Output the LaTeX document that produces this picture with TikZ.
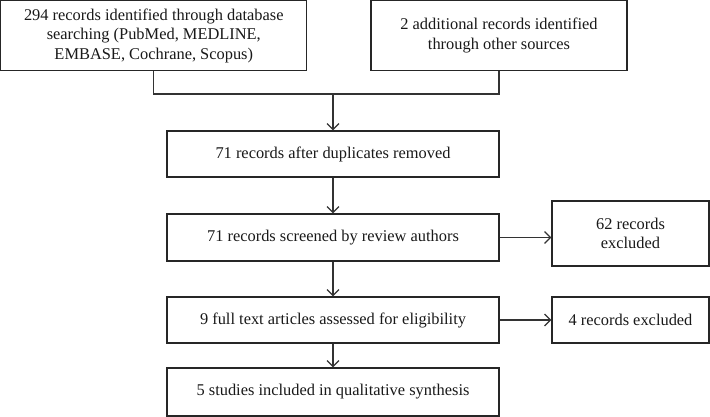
\documentclass[tikz,border=0pt]{standalone}
\usepackage{fontspec}
\setmainfont{Liberation Serif}
\usetikzlibrary{arrows.meta}
\begin{document}
\begin{tikzpicture}[x=1pt,y=-1pt,
  box/.style={draw=black!85, line width=1.2pt, fill=white, inner sep=0pt, align=center,
    font=\fontsize{16.4pt}{19.5pt}\selectfont, text=black!90},
  conn/.style={draw=black!80, line width=1.2pt},
  arr/.style={conn, -{Straight Barb[length=6pt,width=12pt,line width=1.2pt]}}]
\useasboundingbox (0,0) rectangle (710,417);
\node[box, minimum width=306pt, minimum height=70pt] (b1) at (153.8,35.6)
  {294 records identified through database\\searching (PubMed, MEDLINE,\\EMBASE, Cochrane, Scopus)};
\node[box, minimum width=256pt, minimum height=70pt] (b2) at (499,35.6)
  {2 additional records identified\\through other sources};
\node[box, minimum width=332pt, minimum height=46pt] (b3) at (333,154)
  {71 records after duplicates removed};
\node[box, minimum width=332pt, minimum height=47pt] (b4) at (333,237.5)
  {71 records screened by review authors};
\node[box, minimum width=157pt, minimum height=65pt] (e1) at (630.5,233.5)
  {62 records\\excluded};
\node[box, minimum width=332pt, minimum height=46pt] (b5) at (333,320)
  {9 full text articles assessed for eligibility};
\node[box, minimum width=157pt, minimum height=46pt] (e2) at (630.5,320)
  {4 records excluded};
\node[box, minimum width=332pt, minimum height=48pt] (b6) at (333,392)
  {5 studies included in qualitative synthesis};
\coordinate (j) at (333,94);
\draw[conn] (b1.south) |- (j) -| (b2.south);
\draw[arr] (j) -- (b3.north);
\draw[arr] (b3.south) -- (b4.north);
\draw[arr] (b4.east) -- (e1.west |- b4.east);
\draw[arr] (b4.south) -- (b5.north);
\draw[arr] (b5.east) -- (e2.west);
\draw[arr] (b5.south) -- (b6.north);
\end{tikzpicture}
\end{document}
